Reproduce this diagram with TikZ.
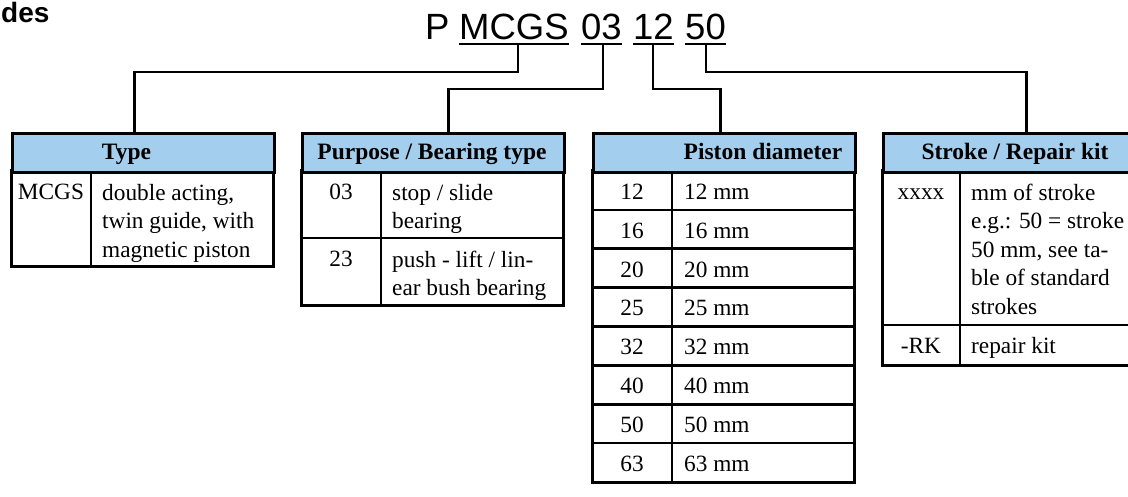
\documentclass[tikz,border=0pt]{standalone}
\usepackage{fontspec}
\setmainfont{Liberation Serif}
\newfontfamily\codefont{Liberation Sans}
\definecolor{hdrblue}{RGB}{163,206,238}
\newcommand\bodyfont{\fontsize{23.3}{28.5}\selectfont}
\newcommand\hdrfont{\fontsize{23.5}{28}\selectfont\bfseries}
\begin{document}
\begin{tikzpicture}[x=1pt,y=-1pt,
  hdr/.style={draw=black, line width=3pt, fill=hdrblue, minimum width=262pt, minimum height=39pt, inner sep=0pt, anchor=north west},
  frame/.style={draw=black, line width=3pt},
  rule/.style={draw=black, line width=2.6pt},
  conn/.style={draw=black, line width=2.7pt, line join=miter},
  uline/.style={draw=black, line width=2.6pt},
  code/.style={font=\codefont\fontsize{36.5}{40}\selectfont, inner sep=0pt, anchor=base west},
  htxt/.style={font=\hdrfont, inner sep=0pt, anchor=base},
  ctxt/.style={font=\bodyfont, inner sep=0pt, anchor=base},
  ltxt/.style={font=\bodyfont, inner sep=0pt, anchor=north west, align=left}]
\useasboundingbox (0,0) rectangle (1128,497);

% title fragment
\node[font=\codefont\bfseries\fontsize{28}{30}\selectfont, inner sep=0pt, anchor=base west] (title) at (1,23) {des};

% code line
\node[code] (wP) at (425,40) {P};
\node[code] (wMCGS) at (459,40) {MCGS};
\node[code] (w03) at (581,40) {03};
\node[code] (w12) at (633,40) {12};
\node[code] (w50) at (685,40) {50};
\foreach \w in {wMCGS,w03,w12,w50}
  \draw[uline] ([yshift=-4pt]\w.base west) -- ([yshift=-4pt]\w.base east);

% ---------- Type table ----------
\draw[frame] (11,171) rectangle (273,267);
\draw[rule] (91,171) -- (91,267);
\node[hdr] (hType) at (11,132) {};
\node[htxt] (tType) at (126.5,159.5) {Type};
\node[ctxt] (tyc1) at (51,200) {MCGS};
\node[ltxt] (tyc2) at (102,180.05) {\strut double acting,\\twin guide, with\\magnetic piston};

% ---------- Purpose table ----------
\draw[frame] (301,171) rectangle (563,306);
\draw[rule] (381,171) -- (381,306);
\draw[rule] (301,238) -- (563,238);
\node[hdr] (hPurp) at (301,132) {};
\node[htxt] (tPurp) at (432,159.5) {Purpose / Bearing type};
\node[ctxt] (pu1a) at (341,200) {03};
\node[ltxt] (pu1b) at (392,180.05) {\strut stop / slide\\bearing};
\node[ctxt] (pu2a) at (341,267) {23};
\node[ltxt] (pu2b) at (392,247.05) {\strut push - lift / lin-\\ear bush bearing};

% ---------- Piston table ----------
\draw[frame] (592,171) rectangle (854,482);
\draw[rule] (672,171) -- (672,482);
\foreach \i in {1,...,7}
  \draw[rule] (592,171+\i*38.875) -- (854,171+\i*38.875);
\node[hdr] (hPist) at (592,132) {};
\node[htxt] (tPist) at (763,159.5) {Piston diameter};
\foreach \v [count=\i from 0] in {12,16,20,25,32,40,50,63} {
  \node[ctxt] (pa\i) at (632,171+\i*38.875+28.3) {\v};
  \node[ctxt, anchor=base west] (pb\i) at (684,171+\i*38.875+28.3) {\v\ mm};
}

% ---------- Stroke table ----------
\draw[frame] (882,171) rectangle (1144,365);
\draw[rule] (960,171) -- (960,365);
\draw[rule] (882,325) -- (1144,325);
\node[hdr] (hStr) at (882,132) {};
\node[htxt] (tStr) at (1015,159.5) {Stroke / Repair kit};
\node[ctxt] (st1a) at (921,200) {xxxx};
\node[ltxt] (st1b) at (971,180.05) {\strut mm of stroke\\e.g.: 50 = stroke\\50 mm, see ta-\\ble of standard\\strokes};
\node[ctxt] (st2a) at (921,353.3) {-RK};
\node[ctxt, anchor=base west] (st2b) at (971,353.3) {repair kit};

% ---------- connectors ----------
\draw[conn] ([xshift=4pt,yshift=-4pt]wMCGS.base) -- ++(0,28) -| ([xshift=-9pt]hType.north);
\draw[conn] ([xshift=1.5pt,yshift=-4pt]w03.base) -- ++(0,45) -| ([xshift=15pt]hPurp.north);
\draw[conn] ([xshift=-0.5pt,yshift=-4pt]w12.base) -- ++(0,45) -| ([xshift=-4pt]hPist.north);
\draw[conn] ([xshift=0.5pt,yshift=-4pt]w50.base) -- ++(0,28) -| ([xshift=12pt]hStr.north);
\end{tikzpicture}
\end{document}
